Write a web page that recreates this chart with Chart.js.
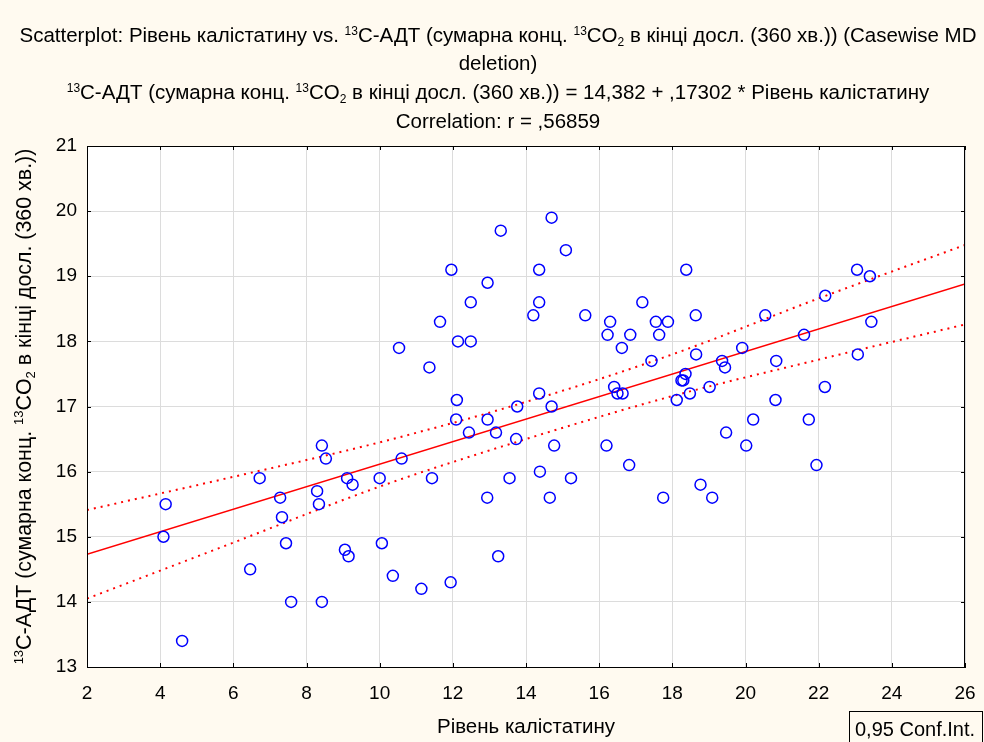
<!DOCTYPE html>
<html>
<head>
<meta charset="utf-8">
<script src="https://cdn.jsdelivr.net/npm/chart.js@4.4.1/dist/chart.umd.min.js"></script>
<style>
  html, body { margin: 0; padding: 0; background: #fffaf0; }
  canvas { display: block; }
</style>
</head>
<body>
<canvas id="scatterChart" width="984" height="742"></canvas>
<script>
// Рівень калістатину (x) і 13C-АДТ (y)
const kalistatyn = [
  4.15, 4.09, 4.6, 6.46, 6.72, 7.28, 7.33, 7.44, 7.58, 8.42,
  8.53, 8.29, 8.34, 8.42, 9.11, 9.26, 9.05, 9.15, 10.0, 10.06,
  10.36, 10.6, 10.53, 11.36, 11.65, 11.96, 12.14, 12.49, 12.49, 12.95,
  13.31, 12.11, 12.09, 12.95, 13.76, 14.2, 14.36, 14.36, 14.7, 15.09,
  14.36, 14.7, 15.62, 16.3, 16.23, 16.62, 16.85, 17.18, 17.43, 17.55,
  17.64, 17.88, 18.38, 18.64, 18.65, 16.41, 16.5, 16.64, 18.36, 18.25,
  18.3, 18.12, 18.48, 11.43, 12.44, 13.18, 13.73, 12.94, 13.55, 14.38,
  14.77, 14.65, 15.23, 13.24, 11.14, 11.94, 16.2, 16.82, 17.75, 18.77,
  19.02, 19.36, 19.44, 19.91, 20.54, 20.84, 20.82, 21.6, 22.18, 22.17,
  23.05, 23.4, 23.44, 23.07, 20.21, 19.47, 20.02, 21.73, 21.94, 19.09
];
const adt = [
  15.5, 15.0, 13.4, 14.5, 15.9, 15.6, 15.3, 14.9, 14.0, 16.4,
  16.2, 15.7, 15.5, 14.0, 15.9, 15.8, 14.8, 14.7, 15.9, 14.9,
  14.4, 16.2, 17.9, 17.6, 18.3, 19.1, 18.0, 18.0, 18.6, 18.9,
  19.7, 17.1, 16.8, 16.8, 17.0, 18.4, 19.1, 18.6, 19.9, 19.4,
  17.2, 17.0, 18.4, 18.3, 18.1, 17.9, 18.1, 18.6, 17.7, 18.3,
  18.1, 18.3, 19.1, 18.4, 17.8, 17.3, 17.2, 17.2, 17.5, 17.4,
  17.4, 17.1, 17.2, 15.9, 16.6, 16.6, 16.5, 15.6, 15.9, 16.0,
  16.4, 15.6, 15.9, 14.7, 14.2, 14.3, 16.4, 16.1, 15.6, 15.8,
  17.3, 17.7, 17.6, 17.9, 18.4, 17.7, 17.1, 18.1, 18.7, 17.3,
  19.1, 19.0, 18.3, 17.8, 16.8, 16.6, 16.4, 16.8, 16.1, 15.6
];

// лінія регресії та межі 0,95 довірчого інтервалу
const fitX = [2, 26];
const fitY = [14.73, 18.88];
const bandX = [2, 6, 10, 14, 18, 22, 26];
const bandUpper = [15.41, 15.92, 16.45, 17.07, 17.80, 18.66, 19.48];
const bandLower = [14.05, 14.91, 15.77, 16.50, 17.16, 17.72, 18.26];

const xTicks = [2, 4, 6, 8, 10, 12, 14, 16, 18, 20, 22, 24, 26];
const yTicks = [13, 14, 15, 16, 17, 18, 19, 20, 21];

const FONT = '"Liberation Sans", Arial, sans-serif';

const sup = t => ({ t, k: 'sup' });
const sub = t => ({ t, k: 'sub' });
const txt = t => ({ t, k: 'n' });

const titleLines = [
  [txt('Scatterplot: Рівень калістатину vs. '), sup('13'), txt('C-АДТ (сумарна конц. '), sup('13'), txt('CO'), sub('2'), txt(' в кінці досл. (360 хв.)) (Casewise MD')],
  [txt('deletion)')],
  [sup('13'), txt('C-АДТ (сумарна конц. '), sup('13'), txt('CO'), sub('2'), txt(' в кінці досл. (360 хв.)) = 14,382 + ,17302 * Рівень калістатину')],
  [txt('Correlation: r = ,56859')]
];
const yTitle = [sup('13'), txt('C-АДТ (сумарна конц. '), sup('13'), txt('CO'), sub('2'), txt(' в кінці досл. (360 хв.))')];
const xTitle = 'Рівень калістатину';
const legendText = '0,95 Conf.Int.';

function segFont(seg, size) {
  return seg.k === 'n' ? size + 'px ' + FONT : Math.round(size * 0.6) + 'px ' + FONT;
}

// рядок з верхніми/нижніми індексами, по центру cx
function drawRich(ctx, segs, cx, baseline, size) {
  let total = 0;
  segs.forEach(s => { ctx.font = segFont(s, size); total += ctx.measureText(s.t).width; });
  let x = cx - total / 2;
  ctx.textAlign = 'left';
  ctx.textBaseline = 'alphabetic';
  segs.forEach(s => {
    ctx.font = segFont(s, size);
    let dy = 0;
    if (s.k === 'sup') dy = -size * 0.36;
    if (s.k === 'sub') dy = size * 0.2;
    ctx.fillText(s.t, x, baseline + dy);
    x += ctx.measureText(s.t).width;
  });
}

const decorPlugin = {
  id: 'decor',
  beforeDraw(chart) {
    const { ctx, chartArea: a } = chart;
    ctx.save();
    ctx.fillStyle = '#fffaf0';
    ctx.fillRect(0, 0, chart.width, chart.height);
    ctx.fillStyle = '#ffffff';
    ctx.fillRect(a.left, a.top, a.right - a.left, a.bottom - a.top);
    ctx.restore();
  },
  afterDraw(chart) {
    const { ctx, chartArea: a, scales } = chart;
    ctx.save();
    ctx.strokeStyle = '#000';
    ctx.lineWidth = 1;
    ctx.strokeRect(a.left + 0.5, a.top + 0.5, a.right - a.left - 1, a.bottom - a.top);

    // короткі внутрішні риски
    ctx.beginPath();
    xTicks.forEach(v => {
      const px = Math.round(scales.x.getPixelForValue(v)) + 0.5;
      ctx.moveTo(px, a.bottom); ctx.lineTo(px, a.bottom - 4);
      ctx.moveTo(px, a.top); ctx.lineTo(px, a.top + 4);
    });
    yTicks.forEach(v => {
      const py = Math.round(scales.y.getPixelForValue(v)) + 0.5;
      ctx.moveTo(a.left, py); ctx.lineTo(a.left + 4, py);
      ctx.moveTo(a.right, py); ctx.lineTo(a.right - 4, py);
    });
    ctx.stroke();

    ctx.fillStyle = '#000';
    const baselines = [42, 70, 99, 128];
    titleLines.forEach((line, i) => drawRich(ctx, line, 498, baselines[i], 20.5));

    ctx.font = '20.5px ' + FONT;
    ctx.textAlign = 'center';
    ctx.fillText(xTitle, (a.left + a.right) / 2, 733);

    ctx.save();
    ctx.translate(31, (a.top + a.bottom) / 2);
    ctx.rotate(-Math.PI / 2);
    drawRich(ctx, yTitle, 0, 0, 21.4);
    ctx.restore();

    // рамка легенди
    ctx.strokeRect(849.5, 711.5, 133, 31);
    ctx.font = '20px ' + FONT;
    ctx.textAlign = 'left';
    ctx.fillText(legendText, 855, 736);
    ctx.restore();
  }
};

const pointData = kalistatyn.map((x, i) => ({ x: x, y: adt[i] }));
const fitData = fitX.map((x, i) => ({ x: x, y: fitY[i] }));
const upperData = bandX.map((x, i) => ({ x: x, y: bandUpper[i] }));
const lowerData = bandX.map((x, i) => ({ x: x, y: bandLower[i] }));

const ctx = document.getElementById('scatterChart').getContext('2d');
new Chart(ctx, {
  type: 'scatter',
  data: {
    datasets: [
      {
        data: pointData,
        borderColor: '#0000ff',
        backgroundColor: 'rgba(0,0,0,0)',
        borderWidth: 1.5,
        pointRadius: 5.5,
        order: 0
      },
      {
        data: fitData,
        showLine: true,
        borderColor: '#ff0000',
        borderWidth: 1.5,
        pointRadius: 0,
        order: 1
      },
      {
        data: upperData,
        showLine: true,
        borderColor: '#ff0000',
        borderWidth: 2,
        borderDash: [2, 5],
        cubicInterpolationMode: 'monotone',
        pointRadius: 0,
        order: 1
      },
      {
        data: lowerData,
        showLine: true,
        borderColor: '#ff0000',
        borderWidth: 2,
        borderDash: [2, 5],
        cubicInterpolationMode: 'monotone',
        pointRadius: 0,
        order: 1
      }
    ]
  },
  options: {
    responsive: false,
    devicePixelRatio: 1,
    animation: false,
    layout: { padding: { top: 146, right: 19, bottom: 0, left: 0 } },
    plugins: {
      legend: { display: false },
      title: { display: false },
      tooltip: { enabled: false }
    },
    scales: {
      x: {
        type: 'linear',
        min: 2,
        max: 26,
        afterFit: scale => {
          scale.height = 75;
          scale.paddingLeft = 0;
          scale.paddingRight = 0;
        },
        ticks: { stepSize: 2, color: '#000', padding: 15, font: { family: FONT, size: 19 } },
        grid: { color: '#dcdcdc', drawTicks: false },
        border: { color: '#000' }
      },
      y: {
        min: 13,
        max: 21,
        afterFit: scale => {
          scale.width = 87;
          scale.paddingTop = 0;
          scale.paddingBottom = 0;
        },
        ticks: { stepSize: 1, color: '#000', padding: 10, font: { family: FONT, size: 19 } },
        grid: { color: '#dcdcdc', drawTicks: false },
        border: { color: '#000' }
      }
    }
  },
  plugins: [decorPlugin]
});
</script>
</body>
</html>
